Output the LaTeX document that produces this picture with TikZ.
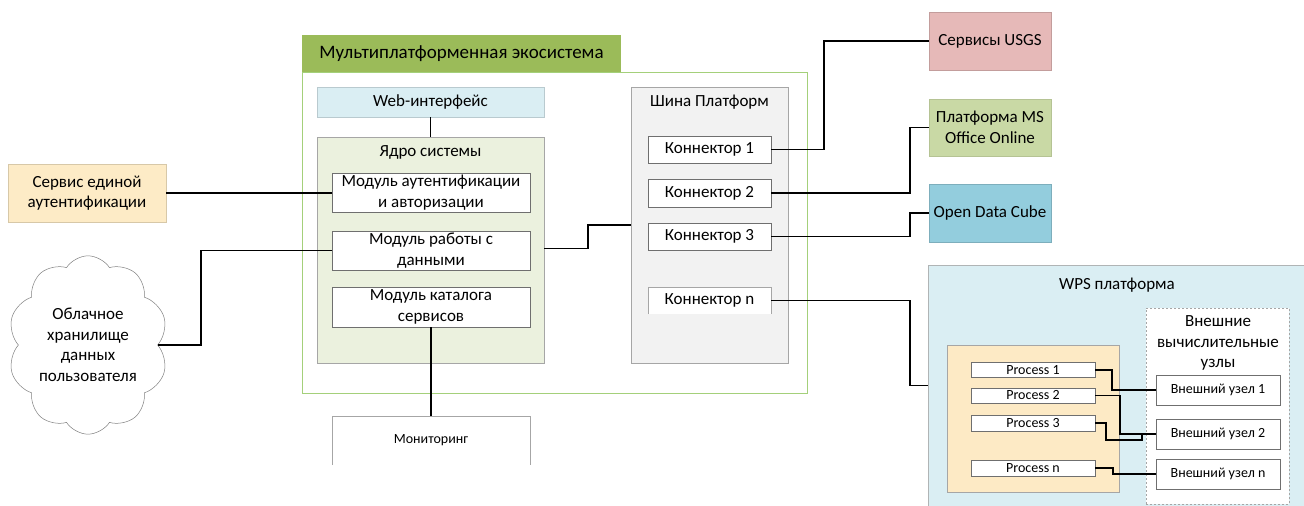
\documentclass[tikz,border=0pt]{standalone}
\usepackage{fontspec}
\setmainfont{Carlito}
\usetikzlibrary{shapes.symbols,calc}
\definecolor{tabgreen}{HTML}{9BBB59}
\definecolor{ecoline}{HTML}{A4D07A}
\definecolor{webfill}{HTML}{DAEEF3}
\definecolor{corefill}{HTML}{EBF1DE}
\definecolor{busfill}{HTML}{F2F2F2}
\definecolor{ssofill}{HTML}{FDEBC6}
\definecolor{usgsfill}{HTML}{E6B9B8}
\definecolor{msfill}{HTML}{C9D9A5}
\definecolor{odcfill}{HTML}{93CDDD}
\definecolor{wpsfill}{HTML}{DAEEF3}
\definecolor{yelfill}{HTML}{FDEAC5}
\definecolor{boxline}{HTML}{6F6F6F}
\definecolor{softline}{HTML}{A6A6A6}
\tikzset{
  base/.style={inner sep=0pt, outer sep=0pt, align=center, font=\fontsize{17}{20.5}\selectfont},
  smallfont/.style={font=\fontsize{14}{16}\selectfont},
  modbox/.style={base, draw=boxline, line width=0.8pt, fill=white},
  openbox/.style={base, fill=white},
  colbox/.style={base, line width=0.6pt},
  conn/.style={line width=1.2pt, black},
  procbox/.style={base, smallfont, draw=boxline, line width=0.7pt, fill=white},
}
\begin{document}
\begin{tikzpicture}[x=1pt,y=-1pt]
\useasboundingbox (0,0) rectangle (1304,506);
% ecosystem
\node[base, draw=ecoline, line width=0.9pt, minimum width=505, minimum height=321] (eco) at (554.5,232.5) {};
\node[base, font=\fontsize{19}{22}\selectfont, fill=tabgreen, minimum width=319, minimum height=37] (tab) at (461.5,53.5) {Мультиплатформенная экосистема};
\node[base, fill=webfill, draw=webfill!85!black, line width=0.5pt, minimum width=227, minimum height=30] (web) at (430.5,102) {Web-интерфейс};
\node[base, fill=corefill, draw=softline, line width=0.6pt, minimum width=227, minimum height=226] (core) at (430.5,250) {};
\node[base] (coret) at (430.5,152) {Ядро системы};
\node[modbox, minimum width=198, minimum height=39] (auth) at (431,192.5) {Модуль аутентификации\\и авторизации};
\node[modbox, minimum width=198, minimum height=39] (data) at (431,250.5) {Модуль работы с\\данными};
\node[modbox, minimum width=198, minimum height=40] (cat) at (431,307) {Модуль каталога\\сервисов};
\node[openbox, smallfont, minimum width=198, minimum height=49] (mon) at (431,440.5) {Мониторинг};
\draw[softline, line width=0.7pt] (mon.south west) -- (mon.north west) -- (mon.north east) -- (mon.south east);
% external left
\node[colbox, fill=ssofill, draw=ssofill!85!black, minimum width=158, minimum height=58] (sso) at (87,193) {Сервис единой\\аутентификации};
\node[base, cloud, cloud puffs=10, cloud puff arc=115, aspect=0.85, draw=gray, line width=0.5pt, fill=white, minimum width=160, minimum height=175] (cloud) at (88,345) {Облачное\\хранилище\\данных\\пользователя};
% bus
\node[base, fill=busfill, draw=softline, line width=0.7pt, minimum width=157, minimum height=276] (bus) at (709.5,225) {};
\node[base] (bust) at (709.5,102) {Шина Платформ};
\node[modbox, minimum width=123, minimum height=27] (k1) at (709.5,149.5) {Коннектор 1};
\node[modbox, minimum width=123, minimum height=28] (k2) at (709.5,193) {Коннектор 2};
\node[modbox, minimum width=123, minimum height=27] (k3) at (709.5,236.5) {Коннектор 3};
\node[openbox, minimum width=123, minimum height=27] (kn) at (709.5,300.5) {Коннектор n};
\draw[softline, line width=0.7pt] (kn.south west) -- (kn.north west) -- (kn.north east) -- (kn.south east);
% external right
\node[colbox, fill=usgsfill, draw=usgsfill!85!black, minimum width=122, minimum height=58] (usgs) at (990,41) {Сервисы USGS};
\node[colbox, fill=msfill, draw=msfill!90!black, minimum width=122, minimum height=57] (ms) at (990,127.5) {Платформа MS\\Office Online};
\node[colbox, fill=odcfill, draw=odcfill!85!black, minimum width=122, minimum height=58] (odc) at (990,213) {Open Data Cube};
% WPS
\node[base, fill=wpsfill, minimum width=376, minimum height=241] (wps) at (1116,385.5) {};
\draw[softline!80!wpsfill, line width=1pt] (wps.south west) -- (wps.north west) -- (wps.north east);
\node[base] (wpst) at (1117,285) {WPS платформа};
\node[base, fill=yelfill, draw=softline, line width=0.6pt, minimum width=172, minimum height=147] (yel) at (1033,418.5) {};
\node[base, fill=white, draw=softline, dashed, dash pattern=on 2pt off 2pt, line width=0.7pt, minimum width=143, minimum height=196] (ext) at (1217.5,406) {};
\node[base, align=center] (extt) at (1218,343) {Внешние\\вычислительные\\узлы};
\node[procbox, minimum width=124, minimum height=15] (p1) at (1033,370) {Process 1};
\node[procbox, minimum width=124, minimum height=15] (p2) at (1033,395.5) {Process 2};
\node[procbox, minimum width=124, minimum height=16] (p3) at (1033,423) {Process 3};
\node[procbox, minimum width=124, minimum height=16] (pn) at (1033,468) {Process n};
\node[procbox, minimum width=124, minimum height=30] (u1) at (1218,390) {Внешний узел 1};
\node[procbox, minimum width=124, minimum height=30] (u2) at (1218,434) {Внешний узел 2};
\node[procbox, minimum width=124, minimum height=30] (un) at (1218,474) {Внешний узел n};
% connectors
\draw[conn] (web.south) -- (core.north);
\draw[conn] (sso.east) -- (auth.west |- sso.east);
\draw[conn] (data.west) -- ++(-131,0) |- (cloud.east);
\draw[conn] (cat.south) -- (mon.north);
\draw[conn] (core.east |- data.east) ++(0,-2) -- ++(44,0) |- (bus.west);
\draw[conn] (k1.east) -- ++(53,0) |- (usgs.west);
\draw[conn] (k2.east) -- ++(139,0) |- (ms.west);
\draw[conn] (k3.east) -- ++(139,0) |- (odc.west);
\draw[conn] (kn.east) -- ++(139,0) |- (wps.west);
\draw[conn] (p1.east) -- ++(17,0) |- (u1.west);
\draw[conn] (p2.east) -- ++(25,0) |- (u2.west);
\draw[conn] (p3.east) -| ($(p3.east)+(11,17)$) -| ($(u2.west)+(-14,0)$);
\draw[conn] (pn.east) -- ++(18,0) |- (un.west);
\end{tikzpicture}
\end{document}
